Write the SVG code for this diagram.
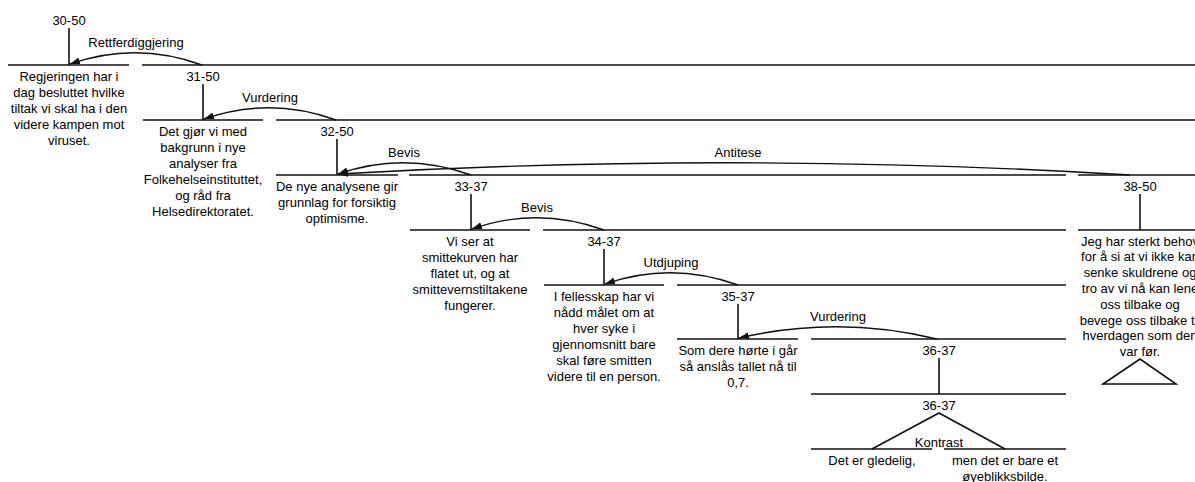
<svg xmlns="http://www.w3.org/2000/svg" width="1195" height="482" viewBox="0 0 1195 482">
<style>
  text { font-family: "Liberation Sans", Arial, sans-serif; font-size: 13px; fill: #000; text-anchor: middle; }
  .ln { stroke: #111; stroke-width: 1.6; fill: none; }
  .arc { stroke: #111; stroke-width: 1.4; fill: none; marker-end: url(#ah); }
</style>
<defs>
  <marker id="ah" markerUnits="userSpaceOnUse" markerWidth="11" markerHeight="8" refX="10" refY="3.5" orient="auto">
    <path d="M0,0 L10,3.5 L0,7 z" fill="#111"/>
  </marker>
</defs>
<rect width="1195" height="482" fill="#fff"/>

<g id="n30-50">
  <text x="69" y="25">30-50</text>
</g>
<g id="s30">
  <line class="ln" x1="8" y1="65" x2="129" y2="65"/>
  <text x="69" y="80.5">Regjeringen har i</text>
  <text x="69" y="96.5">dag besluttet hvilke</text>
  <text x="69" y="112.5">tiltak vi skal ha i den</text>
  <text x="69" y="128.5">videre kampen mot</text>
  <text x="69" y="144.5">viruset.</text>
</g>
<g id="n31-50">
  <line class="ln" x1="142" y1="65" x2="1195" y2="65"/>
  <text x="203" y="80.5">31-50</text>
</g>
<g id="s31">
  <line class="ln" x1="143" y1="120" x2="263" y2="120"/>
  <text x="203" y="135.5">Det gjør vi med</text>
  <text x="203" y="151.5">bakgrunn i nye</text>
  <text x="203" y="167.5">analyser fra</text>
  <text x="203" y="183.5">Folkehelseinstituttet,</text>
  <text x="203" y="199.5">og råd fra</text>
  <text x="203" y="215.5">Helsedirektoratet.</text>
</g>
<g id="n32-50">
  <line class="ln" x1="276" y1="120" x2="1195" y2="120"/>
  <text x="337" y="135.5">32-50</text>
</g>
<g id="s32">
  <line class="ln" x1="276" y1="175" x2="398" y2="175"/>
  <text x="337" y="190.5">De nye analysene gir</text>
  <text x="337" y="206.5">grunnlag for forsiktig</text>
  <text x="337" y="222.5">optimisme.</text>
</g>
<g id="n33-37">
  <line class="ln" x1="409" y1="175" x2="1066" y2="175"/>
  <text x="471" y="190.5">33-37</text>
</g>
<g id="s33">
  <line class="ln" x1="410" y1="230" x2="530" y2="230"/>
  <text x="470" y="245.5">Vi ser at</text>
  <text x="470" y="261.5">smittekurven har</text>
  <text x="470" y="277.5">flatet ut, og at</text>
  <text x="470" y="293.5">smittevernstiltakene</text>
  <text x="470" y="309.5">fungerer.</text>
</g>
<g id="n34-37">
  <line class="ln" x1="543" y1="230" x2="1066" y2="230"/>
  <text x="604" y="245.5">34-37</text>
</g>
<g id="s34">
  <line class="ln" x1="544" y1="285" x2="664" y2="285"/>
  <text x="604" y="300.5">I fellesskap har vi</text>
  <text x="604" y="316.5">nådd målet om at</text>
  <text x="604" y="332.5">hver syke i</text>
  <text x="604" y="348.5">gjennomsnitt bare</text>
  <text x="604" y="364.5">skal føre smitten</text>
  <text x="604" y="380.5">videre til en person.</text>
</g>
<g id="n35-37">
  <line class="ln" x1="677" y1="285" x2="1066" y2="285"/>
  <text x="738" y="300.5">35-37</text>
</g>
<g id="s35">
  <line class="ln" x1="677" y1="339" x2="798" y2="339"/>
  <text x="738" y="354.5">Som dere hørte i går</text>
  <text x="738" y="370.5">så anslås tallet nå til</text>
  <text x="738" y="386.5">0,7.</text>
</g>
<g id="n36-37a">
  <line class="ln" x1="811" y1="339" x2="1066" y2="339"/>
  <text x="939" y="354.5">36-37</text>
</g>
<g id="n36-37b">
  <line class="ln" x1="811" y1="394" x2="1066" y2="394"/>
  <text x="939" y="409.5">36-37</text>
</g>
<g id="s36">
  <line class="ln" x1="811" y1="449" x2="932" y2="449"/>
  <text x="872" y="464.5">Det er gledelig,</text>
</g>
<g id="s37">
  <line class="ln" x1="944" y1="449" x2="1066" y2="449"/>
  <text x="1005" y="464.5">men det er bare et</text>
  <text x="1005" y="480.5">øyeblikksbilde.</text>
</g>
<g id="n38-50">
  <line class="ln" x1="1078" y1="175" x2="1195" y2="175"/>
  <text x="1140" y="190.5">38-50</text>
</g>
<g id="s38-50">
  <line class="ln" x1="1078" y1="230" x2="1195" y2="230"/>
  <text x="1140" y="245.5">Jeg har sterkt behov</text>
  <text x="1140" y="261.3">for å si at vi ikke kan</text>
  <text x="1140" y="277.1">senke skuldrene og</text>
  <text x="1140" y="292.9">tro av vi nå kan lene</text>
  <text x="1140" y="308.7">oss tilbake og</text>
  <text x="1140" y="324.5">bevege oss tilbake til</text>
  <text x="1140" y="340.3">hverdagen som den</text>
  <text x="1140" y="356.1">var før.</text>
  <polygon points="1140,359 1103,384 1176,384" fill="none" stroke="#111" stroke-width="1.6"/>
</g>

<g id="connectors">
  <line class="ln" x1="69" y1="28" x2="69" y2="65"/>
  <line class="ln" x1="203" y1="84" x2="203" y2="120"/>
  <line class="ln" x1="337" y1="139" x2="337" y2="175"/>
  <line class="ln" x1="471" y1="194" x2="471" y2="230"/>
  <line class="ln" x1="604" y1="249" x2="604" y2="285"/>
  <line class="ln" x1="738" y1="304" x2="738" y2="339"/>
  <line class="ln" x1="939" y1="358" x2="939" y2="394"/>
  <line class="ln" x1="1140" y1="194" x2="1140" y2="230"/>
  <polyline class="ln" points="872,449 939,413 1005,449"/>

  <path class="arc" d="M202,65 Q136,41 70,64"/>
  <text x="136" y="47">Rettferdiggjering</text>
  <path class="arc" d="M336,120 Q270,96 204,119"/>
  <text x="270" y="102">Vurdering</text>
  <path class="arc" d="M471,175 Q404,151 338,174"/>
  <text x="404" y="157">Bevis</text>
  <path class="arc" d="M1130,175 Q738,151 338,174"/>
  <text x="738" y="157">Antitese</text>
  <path class="arc" d="M604,230 Q537,206 472,229"/>
  <text x="537" y="212">Bevis</text>
  <path class="arc" d="M738,285 Q671,261 605,284"/>
  <text x="671" y="267">Utdjuping</text>
  <path class="arc" d="M937,339 Q838,315 739,338"/>
  <text x="838" y="321">Vurdering</text>
  <text x="939" y="447">Kontrast</text>
</g>
</svg>
